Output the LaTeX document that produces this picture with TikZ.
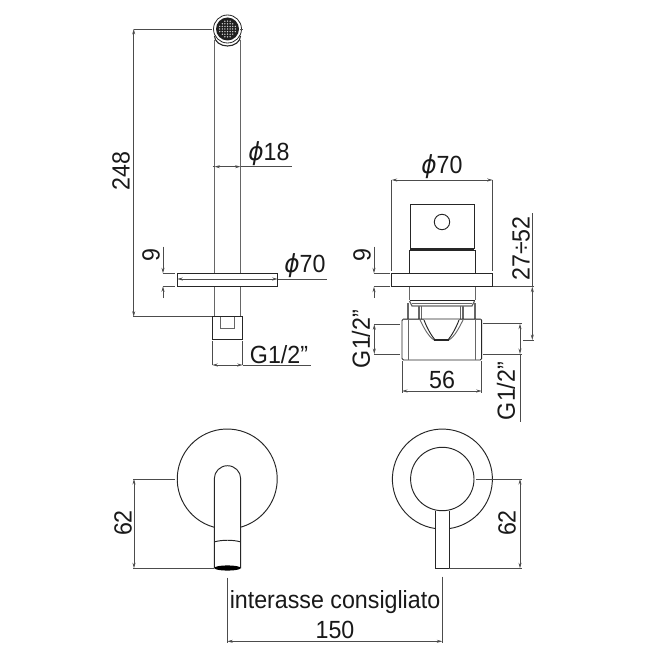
\documentclass[tikz,border=0pt]{standalone}
\usepackage{fontspec}
\setmainfont{Liberation Sans}
\newfontfamily\phifont{DejaVu Sans}
\usetikzlibrary{arrows.meta}
\newcommand{\dia}{{\phifont\itshape ϕ}}
\newcommand{\tall}[1]{\scalebox{1.01}[1.08]{#1}}
\tikzset{
  x=1pt,y=-1pt,
  part/.style={draw=black!85,line width=0.95pt},
  thinpart/.style={draw=black!60,line width=0.9pt},
  dimline/.style={draw=black!70,line width=0.75pt},
  both/.style={dimline,{Stealth[length=5.5pt,width=3pt]}-{Stealth[length=5.5pt,width=3pt]}},
  tipin/.style={dimline,-{Stealth[length=5.5pt,width=3pt]}},
  lab/.style={inner sep=0pt,font=\fontsize{23}{23}\selectfont,text=black!90},
  labv/.style={lab,rotate=90},
}
\begin{document}
\begin{tikzpicture}
\useasboundingbox[fill=white] (0,0) rectangle (650,650);
% ---- top-left view
\draw[thinpart] (214.5,40) -- (214.5,273) (240.5,40) -- (240.5,273);
\draw[thinpart] (214.5,286) -- (214.5,316.7) (240.5,286) -- (240.5,316.7);
\draw[part,line width=1.1pt] (214.5,36) arc[start angle=180,end angle=360,x radius=13,y radius=-10];
\draw[part,fill=white,line width=0.8pt] (227.5,29) circle[radius=14];
\fill[black!88] (227.5,29) circle[radius=11.5];
\foreach \i in {-3,...,3}{\foreach \j in {-3,...,3}{
  \pgfmathparse{(\i*\i+\j*\j)<=11?1:0}
  \ifnum\pgfmathresult=1\fill[white!85!black] ({227.5+2.6*\i},{29+2.6*\j}) circle[radius=0.75];\fi}}
\draw[part,fill=white] (177.3,273.3) rectangle (277.7,286.3);
\draw[part,fill=white] (212.3,316.7) rectangle (242.7,339.3);
\draw[part,line width=1.3pt] (212.3,339.3) -- (242.7,339.3);
\draw[thinpart] (220.7,316.7) -- (220.7,328.3) -- (234,328.3) -- (234,316.7);
% dims top-left
\draw[dimline] (133.7,29) -- (212,29) (240,29) -- (243,29);
\draw[dimline] (133,316.7) -- (212.3,316.7);
\draw[both] (133.7,29) -- (133.7,316.7);
\node[labv] (t248) at (121,171) {\tall{248}};
\draw[both] (214.5,166.7) -- (240.5,166.7);
\draw[dimline] (240.5,166.7) -- (291.5,166.7) (212.7,166.7) -- (214.5,166.7);
\node[lab,anchor=south] (t18) at (269,166) {\tall{\dia 18}};
\draw[both] (177.3,279) -- (277.7,279);
\draw[dimline] (277.7,279) -- (326.7,279);
\node[lab,anchor=south] (t70a) at (305,278) {\tall{\dia 70}};
\draw[dimline] (163,273.3) -- (175,273.3) (163,286.3) -- (175,286.3);
\draw[tipin] (163,246.7) -- (163,273.3);
\draw[tipin] (163,298) -- (163,286.3);
\node[labv] (t9a) at (151,255) {\tall{9}};
\draw[dimline] (212.3,341) -- (212.3,365) (242.7,341) -- (242.7,365);
\draw[both] (212.3,365) -- (242.7,365);
\draw[dimline] (242.7,365) -- (311,365);
\node[lab,anchor=south] (tg1) at (279,363.5) {\tall{G1/2"}};
% ---- top-right view
\draw[part] (410.3,204.3) rectangle (474,248.3);
\draw[part] (409.3,273.3) -- (409.3,250.7) -- (475,250.7) -- (475,273.3);
\draw[part,line width=1.2pt] (410.3,249.5) -- (474,249.5);
\draw[part] (442,222) circle[radius=7.7];
\draw[part,fill=white] (391.7,273.3) rectangle (492.7,286.7);
\draw[thinpart] (409.3,286.7) -- (409.3,300) (475,286.7) -- (475,300);
\draw[thinpart,line width=1.2pt] (408,303) -- (408,319) (419,306) -- (419,319) (463,306) -- (463,319) (475,303) -- (475,319);
\draw[thinpart] (421.5,306) -- (421.5,319) (460.5,306) -- (460.5,319);
\draw[part,line width=1.3pt] (409.5,300.5) -- (474.5,300.5);
\draw[thinpart,line width=1.2pt] (409.5,301) -- (412,306) -- (472,306) -- (474.5,301);
\draw[thinpart] (412,303) -- (472,303);
\draw[part,rounded corners=1.5pt] (402,319) rectangle (481.7,360);
\draw[thinpart] (408.3,319) -- (408.3,360) (475,319) -- (475,360);
\draw[thinpart] (420,320) .. controls (424,328) and (428,336) .. (434,340) (463,320) .. controls (459,328) and (455,336) .. (449,340);
\draw[part] (424,320) .. controls (427,328) and (431,335) .. (435,340) -- (448,340) .. controls (452,335) and (456,328) .. (459,320);
\draw[part,line width=1.7pt] (434,340.3) -- (449,340.3);
\draw[thinpart,line width=1.3pt] (402,319.3) -- (424,319.3) (459,319.3) -- (481.7,319.3);
% dims top-right
\draw[dimline] (391.7,180) -- (391.7,271) (492.7,180) -- (492.7,271);
\draw[both] (391.7,180) -- (492.7,180);
\node[lab,anchor=south] (t70b) at (442,179) {\tall{\dia 70}};
\draw[dimline] (374,273.3) -- (390,273.3) (374,286.7) -- (390,286.7);
\draw[tipin] (374,246.7) -- (374,273.3);
\draw[tipin] (374,297.5) -- (374,286.7);
\node[labv] (t9b) at (362,255) {\tall{9}};
\draw[dimline] (493,286.7) -- (534,286.7) (523,340) -- (534,340);
\draw[dimline] (532.3,213) -- (532.3,286.7);
\draw[both] (532.3,286.7) -- (532.3,340);
\node[labv] (t2752) at (521,248.5) {\tall{27÷52}};
\draw[dimline] (374.3,324.3) -- (400,324.3) (374.3,354) -- (400,354);
\draw[both] (374.3,324.3) -- (374.3,354);
\node[labv] (tg2) at (361,339) {\tall{G1/2"}};
\draw[dimline] (483,323.7) -- (521.7,323.7) (483,354) -- (521.7,354);
\draw[both] (520,323.7) -- (520,354);
\draw[dimline] (520,354) -- (520,421.7);
\node[labv] (tg3) at (506,391) {\tall{G1/2"}};
\draw[dimline] (402,361) -- (402,392.5) (481.7,361) -- (481.7,392.5);
\draw[both] (402,391) -- (481.7,391);
\node[lab] (t56) at (442,380) {\tall{56}};
% ---- bottom-left view
\draw[part] (214.3,527.3) arc[start angle=105,end angle=435,radius=50];
\draw[part] (214.3,568.3) -- (214.3,478.7) arc[start angle=180,end angle=360,x radius=13.2,y radius=13] -- (240.7,568.3);
\draw[part] (214.3,541.9) .. controls (222,539.7) and (233,539.7) .. (240.7,541.9);
\fill[black] (227.5,568) ellipse[x radius=13.2,y radius=2.6];
% ---- bottom-right view
\draw[part] (435,528.5) arc[start angle=98.5,end angle=441.5,radius=50];
\draw[part] (442.3,479) circle[radius=31.7];
\draw[part] (435,510.5) -- (435,568.3) -- (449.3,568.3) -- (449.3,510.5);
% dims bottom
\draw[dimline] (133,479) -- (175,479) (133,568.3) -- (214,568.3);
\draw[both] (134,479) -- (134,568.3);
\node[labv] (t62a) at (123,523) {\tall{62}};
\draw[dimline] (476,479) -- (521.5,479) (449.3,568.3) -- (521.5,568.3);
\draw[both] (520,479) -- (520,568.3);
\node[labv] (t62b) at (507,523) {\tall{62}};
\draw[dimline] (227.3,577.7) -- (227.3,642.5) (442.3,576.7) -- (442.3,642.5);
\draw[both] (227.3,641.3) -- (442.3,641.3);
\node[lab] (tint) at (335,602) {\tall{interasse consigliato}};
\node[lab] (t150) at (335,630) {\tall{150}};
\end{tikzpicture}
\end{document}
